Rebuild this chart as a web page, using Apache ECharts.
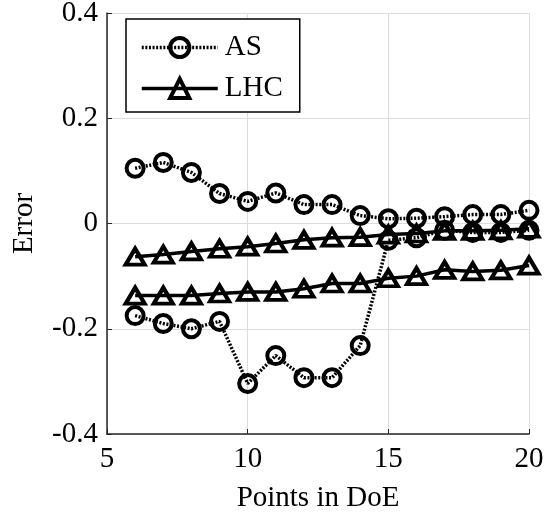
<!DOCTYPE html>
<html>
<head>
<meta charset="utf-8">
<script src="https://cdn.jsdelivr.net/npm/echarts@6/dist/echarts.min.js"></script>
<style>html,body{margin:0;padding:0;background:#fff}#c{width:545px;height:512px}</style>
</head>
<body>
<div id="c"></div>
<script>
var xs = [6,7,8,9,10,11,12,13,14,15,16,17,18,19,20];
var asUpper = [0.105,0.116,0.097,0.057,0.042,0.058,0.036,0.036,0.015,0.009,0.010,0.013,0.017,0.017,0.025];
var asLower = [-0.175,-0.190,-0.200,-0.186,-0.304,-0.251,-0.293,-0.293,-0.232,-0.032,-0.027,-0.013,-0.017,-0.017,-0.013];
var lhcUpper = [-0.063,-0.059,-0.053,-0.048,-0.044,-0.038,-0.031,-0.027,-0.026,-0.021,-0.019,-0.014,-0.014,-0.013,-0.010];
var lhcLower = [-0.137,-0.137,-0.137,-0.133,-0.130,-0.130,-0.124,-0.114,-0.114,-0.104,-0.100,-0.088,-0.091,-0.089,-0.080];
var xTicks = [5,10,15,20];
var yTicks = [-0.4,-0.2,0,0.2,0.4];

function pairs(v){ return xs.map(function(x,i){ return [x, v[i]]; }); }
var font = 'Liberation Serif';
function asSeries(v){
  return {name:'AS', type:'line', data:pairs(v), symbol:'circle', symbolSize:17,
    lineStyle:{color:'#000', width:3.5, type:[2,1.6]},
    itemStyle:{color:'rgba(0,0,0,0)', borderColor:'#000', borderWidth:4}, z:3};
}
function lhcSeries(v){
  return {name:'LHC', type:'line', data:pairs(v), symbol:'triangle', symbolSize:[19,16],
    lineStyle:{color:'#000', width:3.5, type:'solid'},
    itemStyle:{color:'rgba(0,0,0,0)', borderColor:'#000', borderWidth:4}, z:2};
}
var chart = echarts.init(document.getElementById('c'), null, {renderer:'canvas'});
chart.setOption({
  animation:false,
  backgroundColor:'#fff',
  textStyle:{fontFamily:font},
  grid:{left:107, right:16, top:13, bottom:78, containLabel:false, outerBoundsMode:'none'},
  legend:{
    orient:'vertical', left:126, top:19, padding:[14,17,9,14],
    borderColor:'#000', borderWidth:1.5, backgroundColor:'#fff',
    itemWidth:76, itemHeight:24, itemGap:12,
    lineStyle:{width:3.5},
    itemStyle:{borderWidth:4},
    textStyle:{fontFamily:font, fontSize:29, color:'#000', padding:[0,0,0,2]},
    data:['AS','LHC']
  },
  xAxis:{
    type:'value', min:5, max:20, interval:5,
    name:'Points in DoE', nameLocation:'middle', nameGap:50,
    nameTextStyle:{fontFamily:font, fontSize:29, color:'#000'},
    axisLine:{show:true, onZero:false, lineStyle:{color:'#262626', width:1.5}},
    axisTick:{show:true, inside:true, length:5, lineStyle:{color:'#262626'}},
    axisLabel:{fontFamily:font, fontSize:29, color:'#000', margin:11,
      formatter:function(v){ return xTicks.indexOf(v)>=0 ? String(v) : ''; }},
    splitLine:{show:true, lineStyle:{color:'#dcdcdc', width:1}}
  },
  yAxis:{
    type:'value', min:-0.4, max:0.4, interval:0.2,
    name:'Error', nameLocation:'middle', nameGap:68, nameRotate:90,
    nameTextStyle:{fontFamily:font, fontSize:29, color:'#000'},
    axisLine:{show:true, onZero:false, lineStyle:{color:'#262626', width:1.5}},
    axisTick:{show:true, inside:true, length:5, lineStyle:{color:'#262626'}},
    axisLabel:{fontFamily:font, fontSize:29, color:'#000', margin:9,
      formatter:function(v){ var r=Math.round(v*10)/10; var s = r===0 ? '0' : r.toFixed(1); return s; }},
    splitLine:{show:true, lineStyle:{color:'#dcdcdc', width:1}}
  },
  series:[asSeries(asUpper), asSeries(asLower), lhcSeries(lhcUpper), lhcSeries(lhcLower)]
});
</script>
</body>
</html>
